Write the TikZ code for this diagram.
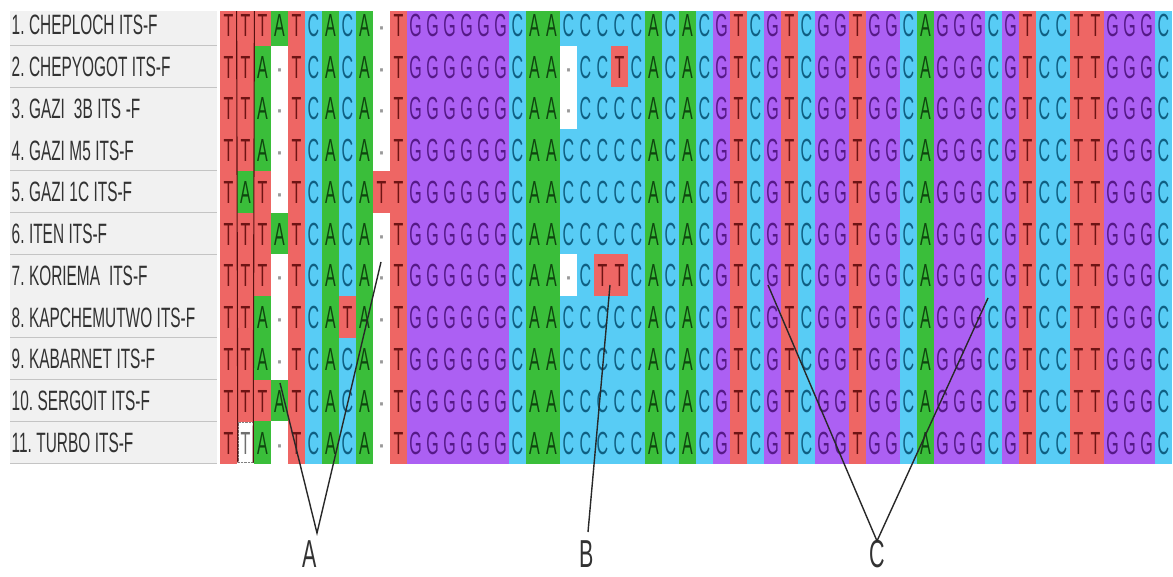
\documentclass[tikz,border=0pt]{standalone}
\usepackage{fontspec}
\setmainfont{Liberation Sans}
\newfontfamily\seqfamily{Liberation Sans}[FakeStretch=0.5]
\newfontfamily\namefamily{Liberation Sans}[FakeStretch=0.55]
\newcommand\seqfont{\seqfamily\fontsize{32}{32}\selectfont}
\newcommand\namefont{\namefamily\fontsize{28}{28}\selectfont\spaceskip=4.5pt\relax\xspaceskip=4.5pt\relax}
\newcommand\markfont{\namefamily\fontsize{39}{39}\selectfont}
\newcommand\gapdot{{\rmfamily\fontsize{30}{30}\selectfont ·}}
\usetikzlibrary{positioning}
\definecolor{seqRedBg}{RGB}{238,102,100}
\definecolor{seqGreenBg}{RGB}{58,190,58}
\definecolor{seqCyanBg}{RGB}{88,204,245}
\definecolor{seqPurpleBg}{RGB}{172,96,243}
\definecolor{seqRedTx}{RGB}{110,20,20}
\definecolor{seqGreenTx}{RGB}{15,70,15}
\definecolor{seqCyanTx}{RGB}{15,95,130}
\definecolor{seqPurpleTx}{RGB}{85,25,135}
\definecolor{seqPanel}{RGB}{241,241,241}
\definecolor{seqRule}{RGB}{196,196,196}
\definecolor{seqInk}{RGB}{50,50,50}
\tikzset{
    seqBase/.style={
        rectangle,
        inner sep=0pt,
        minimum width=17.4pt,
        minimum height=42.2pt,
        text height=23pt,
        text depth=0pt,
        font=\seqfont
    },
    % One style per base
    seqT/.style={seqBase, fill=seqRedBg, text=seqRedTx},
    seqA/.style={seqBase, fill=seqGreenBg, text=seqGreenTx},
    seqC/.style={seqBase, fill=seqCyanBg, text=seqCyanTx},
    seqG/.style={seqBase, fill=seqPurpleBg, text=seqPurpleTx},
    seqN/.style={seqBase, fill=white, text=gray!80},
    seqS/.style={seqBase, fill=white, text=seqInk!70, draw=gray, densely dotted, minimum width=15pt, minimum height=40pt},
    % Sample names
    nameBox/.style={
        fill=seqPanel,
        text=seqInk,
        font=\namefont,
        inner xsep=1.5pt,
        inner ysep=0pt,
        text width=204pt,
        align=flush left,
        minimum height=41.8pt,
        text height=20pt,
        text depth=0pt
    },
    nameRule/.style={draw=seqRule, line width=2pt},
    colSel/.style={draw=seqRedTx!80!black, line width=1.1pt},
    % Callouts
    pointer/.style={draw=seqInk!80!black, line width=1.4pt},
    markLabel/.style={font=\markfont, text=seqInk, inner sep=0pt}
}
\begin{document}
\begin{tikzpicture}[x=1pt, y=-1pt]
    \useasboundingbox (0,0) rectangle (1173,577);
    \fill[white] (0,0) rectangle (1173,577);

    % Alignment rows
    \begin{scope}
    \clip (0,12) rectangle (1173,463.6);
    \foreach \r/\lab/\seq in {
        1/{1. CHEPLOCH ITS-F}/{T,T,T,A,T,C,A,C,A,N,T,G,G,G,G,G,G,C,A,A,C,C,C,C,C},
        2/{2. CHEPYOGOT ITS-F}/{T,T,A,N,T,C,A,C,A,N,T,G,G,G,G,G,G,C,A,A,N,C,C,T,C},
        3/{3. GAZI\hspace{9pt}3B ITS -F}/{T,T,A,N,T,C,A,C,A,N,T,G,G,G,G,G,G,C,A,A,N,C,C,C,C},
        4/{4. GAZI M5 ITS-F}/{T,T,A,N,T,C,A,C,A,N,T,G,G,G,G,G,G,C,A,A,C,C,C,C,C},
        5/{5. GAZI 1C ITS-F}/{T,A,T,N,T,C,A,C,A,T,T,G,G,G,G,G,G,C,A,A,C,C,C,C,C},
        6/{6. ITEN ITS-F}/{T,T,T,A,T,C,A,C,A,N,T,G,G,G,G,G,G,C,A,A,C,C,C,C,C},
        7/{7. KORIEMA\hspace{9pt}ITS-F}/{T,T,T,N,T,C,A,C,A,N,T,G,G,G,G,G,G,C,A,A,N,C,T,T,C},
        8/{8. KAPCHEMUTWO ITS-F}/{T,T,A,N,T,C,A,T,A,N,T,G,G,G,G,G,G,C,A,A,C,C,C,C,C},
        9/{9. KABARNET ITS-F}/{T,T,A,N,T,C,A,C,A,N,T,G,G,G,G,G,G,C,A,A,C,C,C,C,C},
        10/{10. SERGOIT ITS-F}/{T,T,T,A,T,C,A,C,A,N,T,G,G,G,G,G,G,C,A,A,C,C,C,C,C},
        11/{11. TURBO ITS-F}/{T,S,A,N,T,C,A,C,A,N,T,G,G,G,G,G,G,C,A,A,C,C,C,C,C}}{
        \pgfmathsetmacro\cy{25+41.75*(\r-1)}
        \node[nameBox, anchor=west] (lab\r) at (10,\cy) {\lab};
        \draw[nameRule] (lab\r.south west) -- (lab\r.south east);
        \foreach \b [count=\j] in \seq {
            \pgfmathsetmacro\cx{228.5+17*(\j-1)}
            \node[seq\b] (s\r-\j) at (\cx,\cy) {\if N\b\gapdot\else\if S\b T\else\b\fi\fi};
        }
        % shared tail, columns 26 to 56
        \foreach \b [count=\k] in {A,C,A,C,G,T,C,G,T,C,G,G,T,G,G,C,A,G,G,G,C,G,T,C,C,T,T,G,G,G,C} {
            \pgfmathtruncatemacro\j{\k+25}
            \pgfmathsetmacro\cx{228.5+17*(\j-1)}
            \node[seq\b] (s\r-\j) at (\cx,\cy) {\b};
        }
    }
    % Selected column
    \draw[colSel] (s1-2.north west) -- (s11-2.south west);
    \draw[colSel] (s1-2.north east) -- (s11-2.south east);
    \end{scope}

    % Callouts
    \coordinate (aLeft) at (280,383);
    \coordinate (aRight) at (381,262);
    \coordinate (aTip) at (317,533);
    \coordinate (bTop) at (610,285);
    \coordinate (bTip) at (588,532);
    \coordinate (cLeft) at (768,285);
    \coordinate (cRight) at (988,298);
    \coordinate (cTip) at (877,541);
    \node[markLabel] (markA) at (310,554) {A};
    \node[markLabel] (markB) at (587,554) {B};
    \node[markLabel] (markC) at (877,554) {C};
    \draw[pointer] (aLeft) -- (aTip) -- (aRight);
    \draw[pointer] (bTop) -- (bTip);
    \draw[pointer] (cLeft) -- (cTip) -- (cRight);
\end{tikzpicture}
\end{document}
